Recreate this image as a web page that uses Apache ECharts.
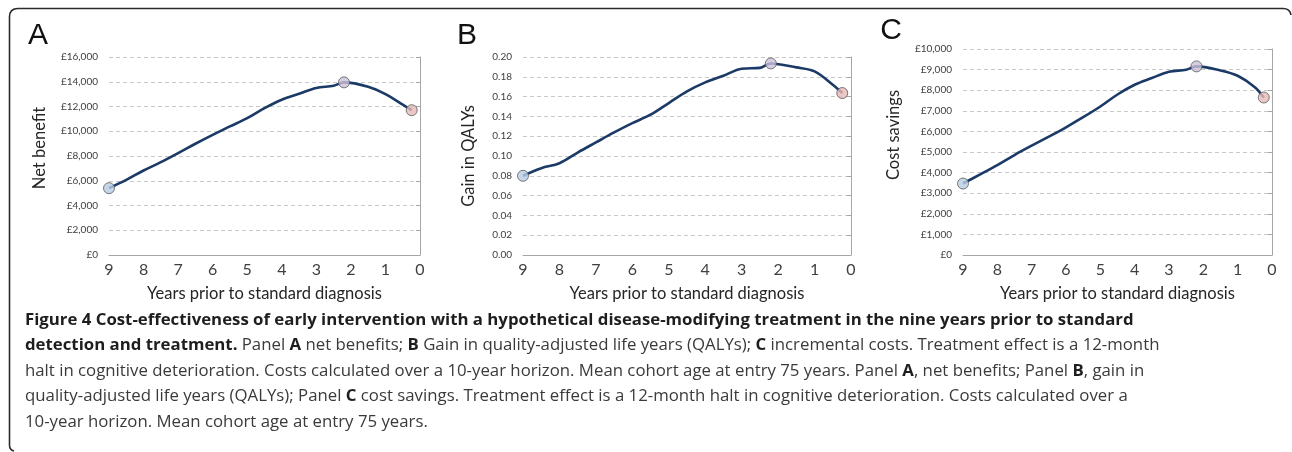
<!DOCTYPE html>
<html>
<head>
<meta charset="utf-8">
<script src="https://cdn.jsdelivr.net/npm/echarts@6/dist/echarts.min.js"></script>
<style>
html,body{margin:0;padding:0;background:#fff;}
#chart{width:1292px;height:452px;}
</style>
</head>
<body>
<div id="chart"></div>
<script>
// ---- data ----
const years = [9, 8.5, 8, 7.5, 7, 6.5, 6, 5.5, 5, 4.5, 4, 3.5, 3, 2.5, 2.2, 1.5, 1, 0.5, 0.24];
const netBenefit = [5400, 6070, 6830, 7500, 8230, 8990, 9710, 10390, 11060, 11870, 12550, 13030, 13490, 13680, 13950, 13600, 13000, 12150, 11700];
const qalyGain = [0.080, 0.0877, 0.0927, 0.1035, 0.1137, 0.1238, 0.1332, 0.1417, 0.1535, 0.1653, 0.1744, 0.1811, 0.1882, 0.1890, 0.1935, 0.1895, 0.1855, 0.1720, 0.1636];
const costSavings = [3470, 3912, 4367, 4854, 5308, 5747, 6201, 6688, 7208, 7790, 8263, 8588, 8896, 8994, 9156, 8961, 8701, 8149, 7646];
const xTickLabels = ['0','1','2','3','4','5','6','7','8','9'];
const panelLetters = ['A', 'B', 'C'];
const yNames = ['Net benefit', 'Gain in QALYs', 'Cost savings'];
const xName = 'Years prior to standard diagnosis';
const yScales = [
  {min: 0, max: 16000, interval: 2000},
  {min: 0, max: 0.20, interval: 0.02},
  {min: 0, max: 10000, interval: 1000}
];
const captionLines = [
  '{b|Figure 4 Cost-effectiveness of early intervention with a hypothetical disease-modifying treatment in the nine years prior to standard}',
  '{b|detection and treatment.} Panel {b|A} net benefits; {b|B} Gain in quality-adjusted life years (QALYs); {b|C} incremental costs. Treatment effect is a 12-month',
  'halt in cognitive deterioration. Costs calculated over a 10-year horizon. Mean cohort age at entry 75 years. Panel {b|A}, net benefits; Panel {b|B}, gain in',
  'quality-adjusted life years (QALYs); Panel {b|C} cost savings. Treatment effect is a 12-month halt in cognitive deterioration. Costs calculated over a',
  '10-year horizon. Mean cohort age at entry 75 years.'
];

// ---- layout / style ----
const series = [netBenefit, qalyGain, costSavings];
const grids = [
  {left: 109, top: 57, width: 311, height: 198},
  {left: 523, top: 57, width: 328, height: 198},
  {left: 963, top: 49, width: 309, height: 206}
];
const letterPos = [[38, 36], [467, 36], [891, 31]];
const yNameGap = [61, 46, 61];
const yNameShift = [16, 0, 34];
const chartFont = 'Lato';
const lineColor = '#1b3a66';
const markerColors = ['#b9cde5', '#ccc1da', '#e6b9b8'];
const yFormatters = [
  v => '£' + v.toLocaleString('en-GB'),
  v => v.toFixed(2),
  v => '£' + v.toLocaleString('en-GB')
];

const option = {
  animation: false,
  backgroundColor: '#fff',
  grid: grids.map(g => Object.assign({containLabel: false}, g)),
  xAxis: grids.map((g, i) => ({
    type: 'value', gridIndex: i, min: 0, max: 9, interval: 1, inverse: true,
    name: xName, nameLocation: 'middle', nameGap: 30,
    nameTextStyle: {fontFamily: chartFont, fontSize: 16.5, color: '#262626'},
    axisLine: {show: true, onZero: false, lineStyle: {color: '#a6a6a6', width: 1}},
    axisTick: {show: false},
    splitLine: {show: false},
    axisLabel: {fontFamily: chartFont, fontSize: 16, color: '#404040', margin: 7,
      formatter: v => xTickLabels[Math.round(v)]}
  })),
  yAxis: grids.map((g, i) => ({
    type: 'value', gridIndex: i, min: yScales[i].min, max: yScales[i].max, interval: yScales[i].interval,
    name: yNames[i], nameLocation: 'middle', nameGap: yNameGap[i], nameRotate: 90,
    nameTextStyle: {fontFamily: chartFont, fontSize: 16.5, color: '#262626', padding: [0, 0, 0, yNameShift[i]]},
    axisLine: {show: true, lineStyle: {color: '#a6a6a6', width: 1}},
    axisTick: {show: true, length: 4, lineStyle: {color: '#a6a6a6'}},
    splitLine: {show: true, lineStyle: {color: '#c8c8c8', type: [4, 3], width: 1}},
    axisLabel: {fontFamily: chartFont, fontSize: 10, color: '#404040', margin: 11, formatter: yFormatters[i]}
  })),
  series: []
};

series.forEach((vals, i) => {
  const pts = years.map((x, k) => [x, vals[k]]);
  option.series.push({
    type: 'line', xAxisIndex: i, yAxisIndex: i, data: pts, smooth: 0.35,
    symbol: 'none', lineStyle: {color: lineColor, width: 2.6}, z: 2
  });
  let peak = 0;
  vals.forEach((v, k) => { if (v > vals[peak]) peak = k; });
  const idx = [0, peak, vals.length - 1];
  option.series.push({
    type: 'scatter', xAxisIndex: i, yAxisIndex: i, z: 3,
    symbol: 'circle', symbolSize: 11,
    data: idx.map((k, j) => ({value: pts[k], itemStyle: {color: markerColors[j], borderColor: '#5a5a5a', borderWidth: 1}}))
  });
});

const graphic = [];
// frame
const frameStyle = {fill: null, stroke: '#2b2b2b', lineWidth: 1.6};
graphic.push({type: 'line', silent: true, shape: {x1: 9.5, y1: 17, x2: 9.5, y2: 445}, style: frameStyle});
graphic.push({type: 'line', silent: true, shape: {x1: 18, y1: 8.5, x2: 1283, y2: 8.5}, style: frameStyle});
graphic.push({type: 'bezierCurve', silent: true, shape: {x1: 9.5, y1: 17, cpx1: 9.5, cpy1: 8.5, x2: 18, y2: 8.5}, style: frameStyle});
graphic.push({type: 'bezierCurve', silent: true, shape: {x1: 1283, y1: 8.5, cpx1: 1290, cpy1: 8.5, x2: 1291, y2: 15}, style: frameStyle});
graphic.push({type: 'bezierCurve', silent: true, shape: {x1: 9.5, y1: 445, cpx1: 9.5, cpy1: 450, x2: 14, y2: 451}, style: frameStyle});
panelLetters.forEach((t, i) => graphic.push({
  type: 'text', x: letterPos[i][0], y: letterPos[i][1],
  style: {text: t, fontFamily: 'Liberation Sans', fontSize: 30, fill: '#111', align: 'center', verticalAlign: 'middle'}
}));
const capMid = [320, 345.5, 371, 396.5, 422];
captionLines.forEach((t, i) => graphic.push({
  type: 'text', x: 25, y: capMid[i],
  style: {
    text: t, fontFamily: 'Open Sans', fontSize: 16.8, fill: '#3a3a3a', verticalAlign: 'middle', align: 'left',
    rich: {b: {fontFamily: 'Open Sans', fontWeight: 'bold', fontSize: 16.8, fill: '#1e1e1e'}}
  }
}));
option.graphic = graphic;

const chart = echarts.init(document.getElementById('chart'), null, {renderer: 'canvas'});
chart.setOption(option);
</script>
</body>
</html>
